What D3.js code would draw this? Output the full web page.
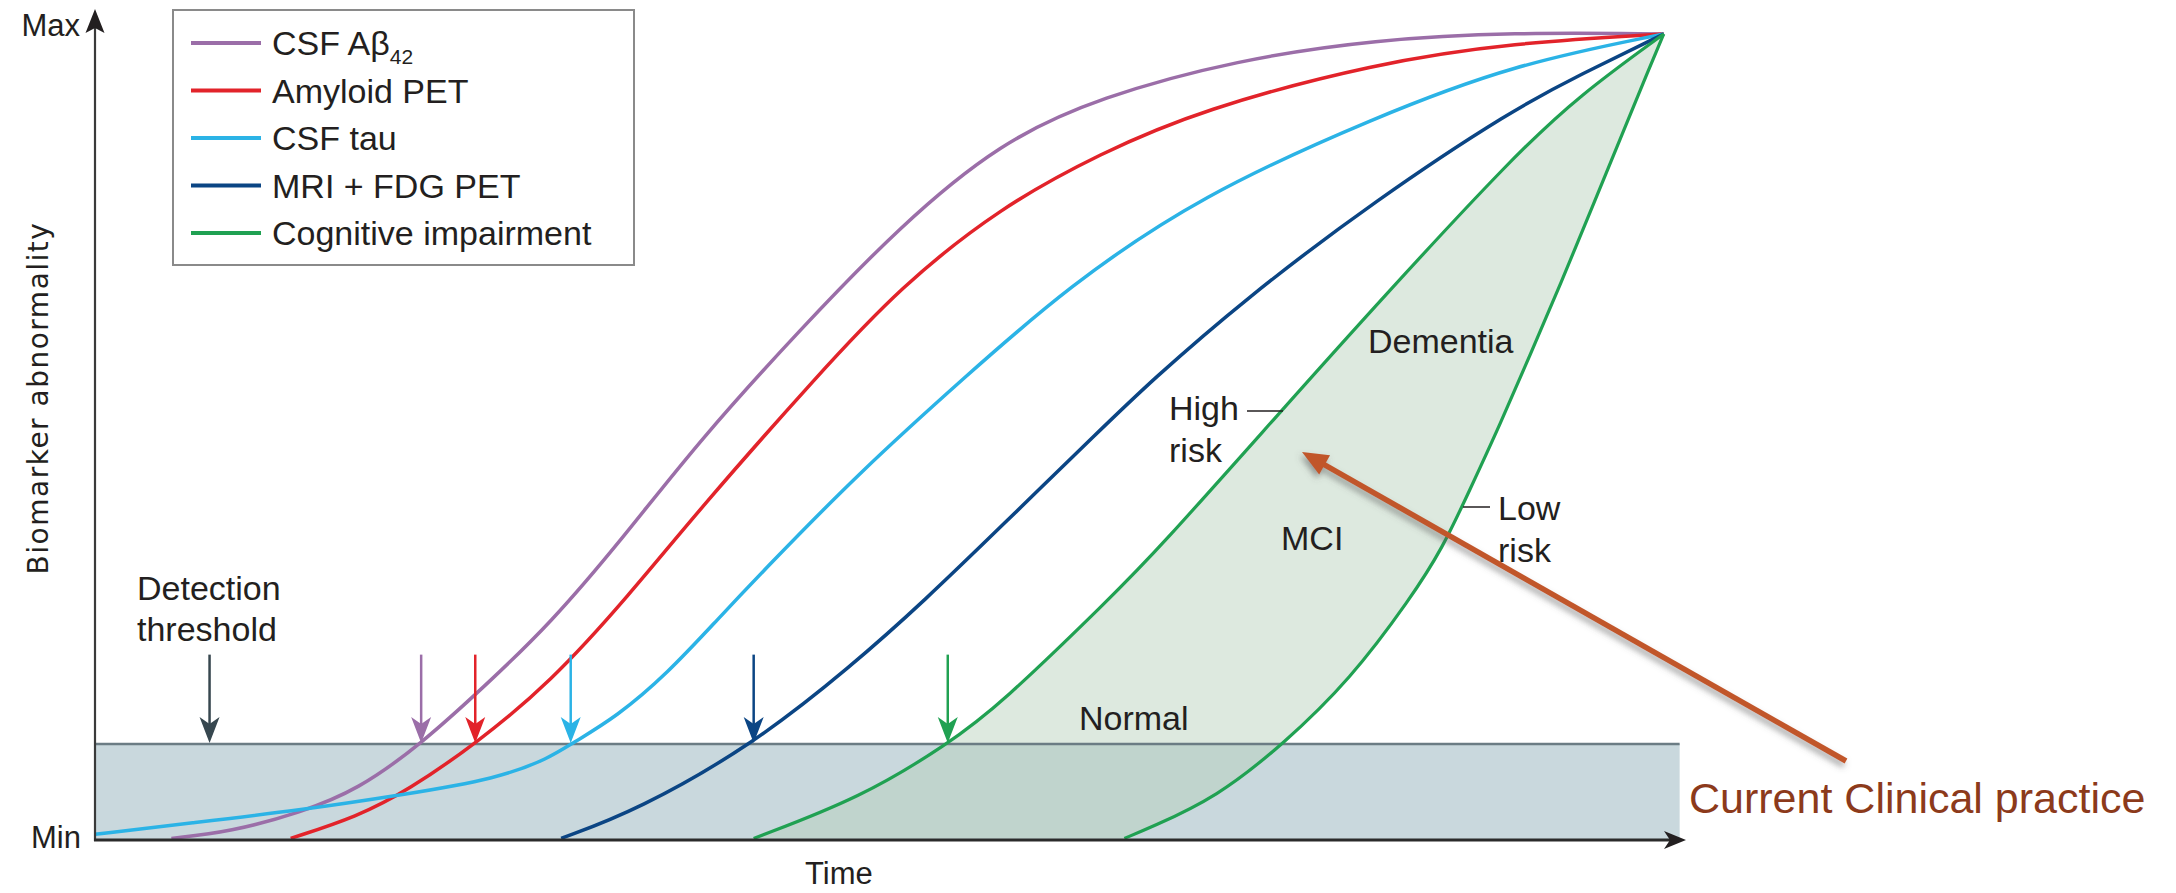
<!DOCTYPE html>
<html>
<head>
<meta charset="utf-8">
<script src="https://d3js.org/d3.v7.min.js"></script>
<style>
  body { margin: 0; background: #fff; }
  text { font-family: "Liberation Sans", Arial, sans-serif; fill: #231f20; }
</style>
</head>
<body>
<svg id="chart" width="2176" height="893"></svg>
<script>
// ---- data (time 0..100, abnormality 0=Min .. 100=Max) ----
var seriesNames = ["CSF Aβ", "Amyloid PET", "CSF tau", "MRI + FDG PET", "Cognitive impairment"]
var seriesSub = ["42", "", "", "", ""]
var seriesColors = ["#9b6ea8", "#e2232a", "#2bb3e6", "#0b4584", "#20a152"]

var csfAb42 = [[4.8,0.2],[8.5,1.0],[12.9,3.4],[16.5,6.2],[20.5,11.9],[24.5,19.1],[28.6,26.8],[33.2,37.5],
  [38.0,49.6],[44.3,63.3],[50.6,76.2],[56.9,86.6],[63.2,92.2],[71.8,96.8],[80.5,99.3],[89.1,100.2],[98.6,100]]
var amyloidPet = [[12.3,0.2],[16.5,2.9],[19.7,6.2],[23.9,11.9],[28.6,19.5],[33.5,30.2],[38.1,41.3],[45.4,57.6],
  [50.6,68.6],[56.9,78.5],[63.2,85.2],[69.5,90.6],[80.5,96.4],[89.1,98.9],[98.6,100]]
var csfTau = [[0,0.7],[6.0,2.1],[12.9,3.7],[19.3,5.6],[25.3,7.6],[28.6,10.2],[29.9,11.9],[32.8,15.3],[36.0,20.7],
  [39.1,27.3],[42.2,33.8],[48.2,45.9],[54.6,57.3],[61.1,68.6],[69.5,80.0],[80.5,89.7],[89.1,96.2],[98.6,100]]
var mriFdg = [[29.3,0.2],[34.1,3.7],[41.4,11.9],[47.5,21.5],[52.2,29.8],[56.9,38.8],[63.2,50.9],[66.3,56.8],
  [72.2,67.0],[80.5,79.4],[89.1,90.6],[93.3,94.9],[98.6,100]]
var cogHighRisk = [[41.4,0.2],[48.2,5.3],[53.6,11.9],[56.9,16.8],[63.8,30.0],[66.8,36.0],[74.5,53.1],[80.8,67.0],
  [89.1,84.7],[93.3,92.4],[98.6,100]]
var cogLowRisk = [[64.7,0.2],[66.3,1.5],[70.5,5.3],[74.7,11.9],[78.9,19.9],[82.7,30.0],[84.7,36.2],[86.4,43.4],
  [88.3,51.5],[90.2,60.2],[92.1,68.9],[94.2,79.0],[96.0,87.6],[97.7,95.8],[98.6,100]]

var thresholdLevel = 11.9
var bandEnd = 99.6
var detectionX = [20.5, 23.9, 29.9, 41.4, 53.6]
var detectionColors = ["#9b6ea8", "#e2232a", "#2bb3e6", "#0b4584", "#20a152"]
var thresholdArrowX = 7.2
var arrowTop = 23

var svg = d3.select("#chart")

var x = d3.scaleLinear().domain([0, 100]).range([95, 1686])
var y = d3.scaleLinear().domain([0, 100]).range([840, 34])

var line = d3.line()
  .x(function(d) { return x(d[0]) })
  .y(function(d) { return y(d[1]) })
  .curve(d3.curveBasis)

// detection band
svg.append("rect")
  .attr("x", x(0)).attr("y", y(thresholdLevel))
  .attr("width", x(bandEnd) - x(0)).attr("height", y(0) - y(thresholdLevel))
  .attr("fill", "#c9d8dd")

// shaded region between high and low risk cognition curves
var lowRev = cogLowRisk.slice().reverse()
svg.append("path")
  .attr("d", line(cogHighRisk) + "L" + line(lowRev).slice(1) + "Z")
  .attr("fill", "rgb(183,208,187)")
  .attr("fill-opacity", 0.47)

svg.append("line")
  .attr("x1", x(0)).attr("x2", x(bandEnd))
  .attr("y1", y(thresholdLevel)).attr("y2", y(thresholdLevel))
  .attr("stroke", "#6b7c84").attr("stroke-width", 2.5)

// curves
var curves = [csfAb42, amyloidPet, csfTau, mriFdg]
curves.forEach(function(c, i) {
  svg.append("path").datum(c)
    .attr("d", line)
    .attr("fill", "none")
    .attr("stroke", seriesColors[i])
    .attr("stroke-width", 3.5)
})
;[cogHighRisk, cogLowRisk].forEach(function(c) {
  svg.append("path").datum(c)
    .attr("d", line)
    .attr("fill", "none")
    .attr("stroke", seriesColors[4])
    .attr("stroke-width", 3.2)
})

// down arrows at detection threshold
function downArrow(px, color) {
  var top = y(arrowTop), tip = y(thresholdLevel) - 1
  svg.append("line")
    .attr("x1", px).attr("x2", px).attr("y1", top).attr("y2", tip - 10)
    .attr("stroke", color).attr("stroke-width", 2.5)
  svg.append("path")
    .attr("d", "M" + px + "," + tip + "L" + (px - 10) + "," + (tip - 26) +
      "L" + px + "," + (tip - 19) + "L" + (px + 10) + "," + (tip - 26) + "Z")
    .attr("fill", color)
}
downArrow(x(thresholdArrowX), "#37474f")
detectionX.forEach(function(d, i) { downArrow(x(d), detectionColors[i]) })

// axes
svg.append("line")
  .attr("x1", x(0)).attr("x2", x(0)).attr("y1", y(0) + 1).attr("y2", 28)
  .attr("stroke", "#3a3a3a").attr("stroke-width", 2.2)
svg.append("path")
  .attr("d", "M" + x(0) + ",9L" + (x(0) - 9.5) + ",33L" + x(0) + ",28L" + (x(0) + 9.5) + ",33Z")
  .attr("fill", "#231f20")
svg.append("line")
  .attr("x1", x(0) - 1).attr("x2", x(100) - 14).attr("y1", y(0)).attr("y2", y(0))
  .attr("stroke", "#2b2b2b").attr("stroke-width", 3)
svg.append("path")
  .attr("d", "M" + x(100) + "," + y(0) + "L" + (x(100) - 22) + "," + (y(0) - 9) +
    "L" + (x(100) - 16) + "," + y(0) + "L" + (x(100) - 22) + "," + (y(0) + 9) + "Z")
  .attr("fill", "#231f20")

svg.append("text").attr("x", 80).attr("y", 36).attr("text-anchor", "end")
  .attr("font-size", 31).text("Max")
svg.append("text").attr("x", 81).attr("y", 848).attr("text-anchor", "end")
  .attr("font-size", 31).text("Min")
svg.append("text").attr("x", 805).attr("y", 884)
  .attr("font-size", 31).text("Time")
svg.append("text")
  .attr("transform", "translate(48,398) rotate(-90)")
  .attr("text-anchor", "middle")
  .style("font-family", "'DejaVu Sans', sans-serif")
  .attr("font-size", 28).attr("letter-spacing", 1.5)
  .text("Biomarker abnormality")

// legend
var legend = svg.append("g")
legend.append("rect")
  .attr("x", 173).attr("y", 10).attr("width", 461).attr("height", 255)
  .attr("fill", "#fff").attr("stroke", "#8a8a8a").attr("stroke-width", 2)
seriesNames.forEach(function(name, i) {
  var ly = 43 + i * 47.5
  legend.append("line")
    .attr("x1", 191).attr("x2", 261).attr("y1", ly).attr("y2", ly)
    .attr("stroke", seriesColors[i]).attr("stroke-width", 4)
  var t = legend.append("text").attr("x", 272).attr("y", ly + 12).attr("font-size", 34)
  t.append("tspan").text(name)
  if (seriesSub[i]) {
    t.append("tspan").attr("font-size", 21).attr("dy", 9).text(seriesSub[i])
  }
})

// annotations
function label(str, px, py) {
  svg.append("text").attr("x", px).attr("y", py).attr("font-size", 34).text(str)
}
label("Detection", 137, 600)
label("threshold", 137, 641)
label("Normal", 1079, 730)
label("Dementia", 1368, 353)
label("High", 1169, 420)
label("risk", 1169, 462)
label("MCI", 1281, 550)
label("Low", 1498, 520)
label("risk", 1498, 562)
svg.append("line").attr("x1", 1247).attr("x2", 1283).attr("y1", 411).attr("y2", 411)
  .attr("stroke", "#231f20").attr("stroke-width", 1.5)
svg.append("line").attr("x1", 1463).attr("x2", 1490).attr("y1", 507).attr("y2", 507)
  .attr("stroke", "#231f20").attr("stroke-width", 1.5)

// current clinical practice pointer
var defs = svg.append("defs")
var f = defs.append("filter").attr("id", "shadow")
  .attr("x", "-20%").attr("y", "-20%").attr("width", "140%").attr("height", "140%")
f.append("feDropShadow").attr("dx", -2).attr("dy", 4).attr("stdDeviation", 3)
  .attr("flood-color", "#555").attr("flood-opacity", 0.55)

var ptr = svg.append("g").attr("filter", "url(#shadow)")
var p0 = [1846, 761], p1 = [1302, 452]
var ang = Math.atan2(p0[1] - p1[1], p0[0] - p1[0])
var hl = 26, hw = 11
var bx = p1[0] + Math.cos(ang) * hl, by = p1[1] + Math.sin(ang) * hl
ptr.append("line")
  .attr("x1", p0[0]).attr("y1", p0[1]).attr("x2", bx - Math.cos(ang) * 4).attr("y2", by - Math.sin(ang) * 4)
  .attr("stroke", "#c1572b").attr("stroke-width", 5.5)
ptr.append("path")
  .attr("d", "M" + p1[0] + "," + p1[1] +
    "L" + (bx - Math.sin(ang) * hw) + "," + (by + Math.cos(ang) * hw) +
    "L" + (bx + Math.sin(ang) * hw) + "," + (by - Math.cos(ang) * hw) + "Z")
  .attr("fill", "#c1572b")

svg.append("text").attr("x", 1689).attr("y", 813)
  .attr("font-size", 43).style("fill", "#8c3a1b")
  .text("Current Clinical practice")
</script>
</body>
</html>
